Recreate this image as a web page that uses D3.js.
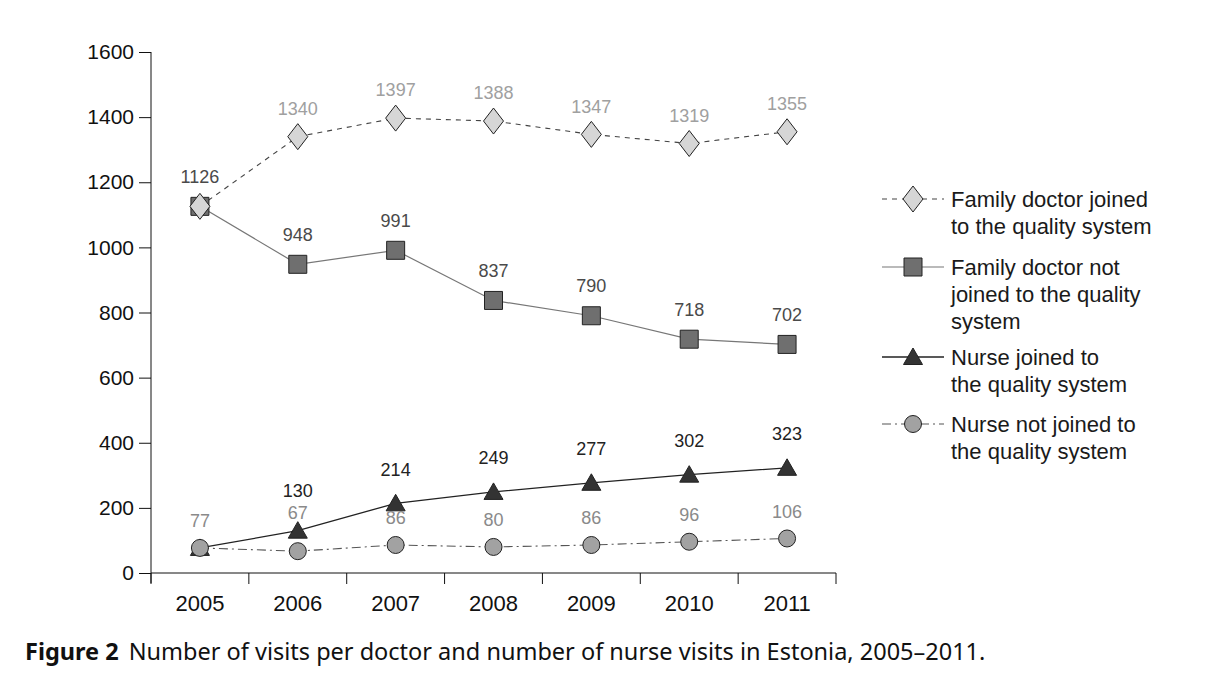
<!DOCTYPE html>
<html>
<head>
<meta charset="utf-8">
<script src="https://cdn.jsdelivr.net/npm/d3@7"></script>
<style>
  body { margin: 0; background: #fff; }
  svg text { font-family: "Liberation Sans", Arial, sans-serif; }
</style>
</head>
<body>
<div id="chart"></div>
<script>
// chart data
const years = ['2005', '2006', '2007', '2008', '2009', '2010', '2011'];
const yTicks = [0, 200, 400, 600, 800, 1000, 1200, 1400, 1600];

const fdJoined       = [1126, 1340, 1397, 1388, 1347, 1319, 1355];
const fdNotJoined    = [1126, 948, 991, 837, 790, 718, 702];
const nurseJoined    = [77, 130, 214, 249, 277, 302, 323];
const nurseNotJoined = [77, 67, 86, 80, 86, 96, 106];

// which points carry a printed value (2005 shares one label)
const fdJoinedShow       = [false, true, true, true, true, true, true];
const fdNotJoinedShow    = [true, true, true, true, true, true, true];
const nurseJoinedShow    = [false, true, true, true, true, true, true];
const nurseNotJoinedShow = [true, true, true, true, true, true, true];

const legendNames = [
  ['Family doctor joined', 'to the quality system'],
  ['Family doctor not', 'joined to the quality', 'system'],
  ['Nurse joined to', 'the quality system'],
  ['Nurse not joined to', 'the quality system']
];

const caption = 'Number of visits per doctor and number of nurse visits in Estonia, 2005\u20132011.';

const svgW = 1230, svgH = 697;
const plot = { left: 151, right: 836, top: 52, bottom: 573 };

const chart = d3.select('#chart').append('svg')
  .attr('width', svgW)
  .attr('height', svgH);

const x = d3.scaleBand().domain(years).range([plot.left, plot.right]);
const y = d3.scaleLinear().domain([0, 1600]).range([plot.bottom, plot.top]);
const cx = yr => x(yr) + x.bandwidth() / 2;

// marker shapes, with their extents (half width, top, bottom)
const shapes = {
  diamond:  { d: 'M0,-13L10,0L0,13L-10,0Z', w: 10, top: 13, bot: 13 },
  square:   { d: 'M-9,-9H9V9H-9Z', w: 9, top: 9, bot: 9 },
  triangle: { d: 'M0,-9L9.5,7.5H-9.5Z', w: 9.5, top: 9, bot: 7.5 },
  circle:   { d: d3.symbol(d3.symbolCircle, Math.PI * 8.5 * 8.5)(), w: 8.5, top: 8.5, bot: 8.5 }
};

// series in drawing order (later ones sit on top)
const series = [
  { values: fdNotJoined, show: fdNotJoinedShow, shape: 'square', fill: '#6f6f6f',
    line: '#777', width: 1.2, dash: null, label: '#4a4a4a', dy: -30, legend: 1 },
  { values: fdJoined, show: fdJoinedShow, shape: 'diamond', fill: '#d6d6d6',
    line: '#444', width: 1.1, dash: '5,5', label: '#a0a0a0', dy: -28, legend: 0 },
  { values: nurseJoined, show: nurseJoinedShow, shape: 'triangle', fill: '#333',
    line: '#222', width: 1.3, dash: null, label: '#222', dy: -34, legend: 2 },
  { values: nurseNotJoined, show: nurseNotJoinedShow, shape: 'circle', fill: '#a2a2a2',
    line: '#555', width: 1.1, dash: '9,4,2,4', label: '#8a8a8a', dy: -27, legend: 3 }
];

// axes
const yAxis = chart.append('g')
  .attr('transform', `translate(${plot.left},0)`)
  .call(d3.axisLeft(y).tickValues(yTicks).tickSize(12).tickPadding(5).tickFormat(d3.format('d')));
yAxis.select('.domain').remove();
yAxis.append('line')
  .attr('x1', 0).attr('x2', 0)
  .attr('y1', plot.top).attr('y2', plot.bottom + 10)
  .attr('stroke', '#111');
yAxis.selectAll('.tick line').attr('stroke', '#111');
yAxis.selectAll('.tick text')
  .attr('fill', '#111')
  .style('font-size', '21px');

const xAxis = chart.append('g')
  .attr('transform', `translate(0,${plot.bottom})`);
xAxis.append('line')
  .attr('x1', plot.left).attr('x2', plot.right)
  .attr('stroke', '#111');
xAxis.selectAll('.xtick')
  .data(years.concat(['end']))
  .join('line')
  .attr('class', 'xtick')
  .attr('x1', d => d === 'end' ? plot.right : x(d))
  .attr('x2', d => d === 'end' ? plot.right : x(d))
  .attr('y1', 0).attr('y2', 11)
  .attr('stroke', '#111');
xAxis.selectAll('.xlabel')
  .data(years)
  .join('text')
  .attr('class', 'xlabel')
  .attr('x', d => cx(d))
  .attr('y', 38)
  .attr('text-anchor', 'middle')
  .attr('fill', '#111')
  .style('font-size', '22px')
  .text(d => d);

// lines
const lineGen = d3.line().x((d, i) => cx(years[i])).y(d => y(d));
series.forEach(s => {
  chart.append('path')
    .attr('d', lineGen(s.values))
    .attr('fill', 'none')
    .attr('stroke', s.line)
    .attr('stroke-width', s.width)
    .attr('stroke-dasharray', s.dash);
});

// markers
series.forEach(s => {
  chart.append('g').selectAll('path')
    .data(s.values)
    .join('path')
    .attr('transform', (d, i) => `translate(${cx(years[i])},${y(d)})`)
    .attr('d', shapes[s.shape].d)
    .attr('fill', s.fill)
    .attr('stroke', '#222')
    .attr('stroke-width', 1);
});

// value labels: place above the point, push up past any marker or label in the way
const labelSize = 18, halfH = 6.5;
const boxes = [];
series.forEach(s => {
  const sh = shapes[s.shape];
  s.values.forEach((v, i) => boxes.push({
    x0: cx(years[i]) - sh.w, x1: cx(years[i]) + sh.w,
    y0: y(v) - sh.top, y1: y(v) + sh.bot, owner: s, i, pad: 0
  }));
});
const labels = [];
[3, 2, 0, 1].forEach(k => {
  const s = series[k];
  s.values.forEach((v, i) => {
    if (!s.show[i]) return;
    const lx = cx(years[i]);
    const hw = String(v).length * 0.556 * labelSize / 2;
    let ly = y(v) + s.dy;
    let moved = true;
    while (moved) {
      moved = false;
      for (const b of boxes) {
        if (b.owner === s && b.i === i) continue;
        if (lx + hw < b.x0 || lx - hw > b.x1) continue;
        if (ly + halfH + b.pad <= b.y0 || ly - halfH - b.pad >= b.y1) continue;
        ly = b.y0 - halfH - b.pad - 2;
        moved = true;
      }
    }
    boxes.push({ x0: lx - hw, x1: lx + hw, y0: ly - halfH, y1: ly + halfH, owner: null, pad: 7 });
    labels.push({ x: lx, y: ly, v, color: s.label });
  });
});
chart.append('g').selectAll('text')
  .data(labels)
  .join('text')
  .attr('x', d => d.x)
  .attr('y', d => d.y)
  .attr('dy', '0.35em')
  .attr('text-anchor', 'middle')
  .attr('fill', d => d.color)
  .style('font-size', labelSize + 'px')
  .text(d => d.v);

// legend
const legendTops = [199, 267, 357, 424];
const legend = chart.append('g');
series.forEach(s => {
  const ly = legendTops[s.legend];
  const row = legend.append('g').attr('transform', `translate(913,${ly})`);
  row.append('line')
    .attr('x1', -31).attr('x2', 31)
    .attr('stroke', s.line)
    .attr('stroke-width', s.width)
    .attr('stroke-dasharray', s.dash);
  row.append('path')
    .attr('d', shapes[s.shape].d)
    .attr('fill', s.fill)
    .attr('stroke', '#222');
  legendNames[s.legend].forEach((t, k) => {
    row.append('text')
      .attr('x', 38).attr('y', k * 27)
      .attr('dy', '0.35em')
      .attr('fill', '#1a1a1a')
      .style('font-size', '22px')
      .text(t);
  });
});

// caption
const cap = chart.append('text')
  .attr('x', 25).attr('y', 660)
  .style('font-family', '"Noto Sans", sans-serif')
  .style('font-size', '23.5px')
  .attr('fill', '#111');
cap.append('tspan').style('font-weight', 'bold').text('Figure 2');
cap.append('tspan').attr('dx', 10).text(caption);
</script>
</body>
</html>
